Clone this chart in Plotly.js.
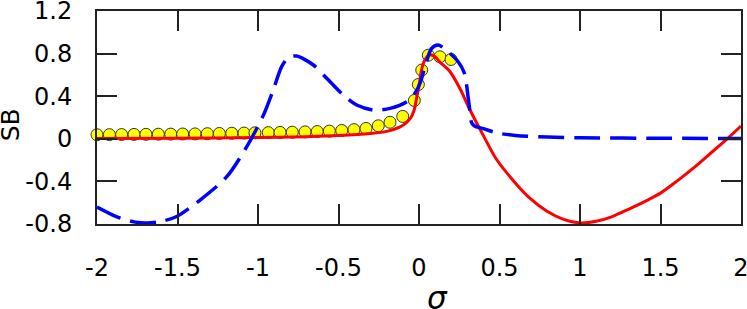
<!DOCTYPE html>
<html>
<head>
<meta charset="utf-8">
<script src="https://cdn.plot.ly/plotly-3.0.1.min.js"></script>
<style>html,body{margin:0;padding:0;background:#fff;}#chart{width:747px;height:309px;}</style>
</head>
<body>
<div id="chart"></div>
<script>
// Yellow circles (data points)
var circleX = [-2.0, -1.923, -1.847, -1.77, -1.696, -1.619, -1.542, -1.468, -1.391, -1.315, -1.24, -1.163, -1.087, -1.019, -0.936, -0.863, -0.787, -0.708, -0.632, -0.557, -0.48, -0.404, -0.329, -0.253, -0.18, -0.101, -0.029, -0.004, 0.017, 0.058, 0.13, 0.199];
var circleY = [0.038, 0.039, 0.04, 0.041, 0.042, 0.043, 0.044, 0.045, 0.046, 0.048, 0.05, 0.052, 0.054, 0.056, 0.058, 0.06, 0.062, 0.065, 0.068, 0.072, 0.078, 0.086, 0.097, 0.122, 0.155, 0.21, 0.36, 0.51, 0.645, 0.785, 0.77, 0.745];

// Red solid curve
var redX = [-2.0, -1.5, -1.0, -0.7, -0.5, -0.3, -0.2, -0.12, -0.08, -0.05, -0.03, -0.015, 0.0, 0.015, 0.03, 0.05, 0.07, 0.1, 0.13, 0.193, 0.255, 0.317, 0.4, 0.48, 0.59, 0.69, 0.795, 0.898, 1.0, 1.1, 1.2, 1.31, 1.42, 1.5, 1.6, 1.7, 1.8, 1.9, 2.0];
var redY = [0.003, 0.006, 0.012, 0.02, 0.03, 0.05, 0.07, 0.11, 0.15, 0.2, 0.27, 0.38, 0.5, 0.64, 0.72, 0.77, 0.79, 0.77, 0.72, 0.63, 0.47, 0.27, 0.03, -0.19, -0.4, -0.56, -0.68, -0.756, -0.79, -0.775, -0.73, -0.655, -0.575, -0.51, -0.40, -0.28, -0.15, -0.02, 0.12];

// Blue dashed curve
var blueX = [-2.0, -1.88, -1.77, -1.69, -1.6, -1.505, -1.36, -1.194, -1.07, -0.967, -0.905, -0.853, -0.81, -0.76, -0.656, -0.573, -0.47, -0.387, -0.284, -0.18, -0.076, -0.025, 0.006, 0.037, 0.079, 0.12, 0.18, 0.24, 0.281, 0.306, 0.317, 0.327, 0.345, 0.4, 0.484, 0.6, 0.8, 1.0, 1.5, 2.0];
var blueY = [-0.64, -0.73, -0.78, -0.79, -0.775, -0.73, -0.575, -0.356, -0.074, 0.22, 0.46, 0.677, 0.765, 0.777, 0.693, 0.568, 0.41, 0.317, 0.27, 0.286, 0.348, 0.427, 0.52, 0.677, 0.85, 0.88, 0.82, 0.73, 0.62, 0.38, 0.25, 0.15, 0.12, 0.095, 0.055, 0.032, 0.016, 0.01, 0.005, 0.003];

// Tick labels
var xTickVals = [-2, -1.5, -1, -0.5, 0, 0.5, 1, 1.5, 2];
var xTickText = ["-2", "-1.5", "-1", "-0.5", "0", "0.5", "1", "1.5", "2"];
var yTickVals = [-0.8, -0.4, 0, 0.4, 0.8, 1.2];
var yTickText = ["-0.8", "-0.4", "0", "0.4", "0.8", "1.2"];

var font = "DejaVu Sans, Liberation Sans, sans-serif";

var traces = [
  {x: circleX, y: circleY, mode: "markers", type: "scatter",
   marker: {size: 12, color: "#ffff00", line: {color: "#333333", width: 1}}, cliponaxis: false},
  {x: redX, y: redY, mode: "lines", type: "scatter",
   line: {color: "#ff0000", width: 3, shape: "spline", smoothing: 0.8}},
  {x: blueX, y: blueY, mode: "lines", type: "scatter",
   line: {color: "#0000ff", width: 3.5, dash: "26px,10px", shape: "spline", smoothing: 0.8}}
];

var axisCommon = {
  showgrid: false, zeroline: false, showline: true, linecolor: "#222", linewidth: 2,
  mirror: "ticks", ticks: "inside", ticklen: 20, tickwidth: 2, tickcolor: "#222",
  ticklabeloverflow: "allow",
  tickfont: {family: font, size: 24, color: "#000"}
};

var layout = {
  width: 747, height: 309,
  margin: {l: 97, r: 6, t: 11, b: 85, pad: 0},
  paper_bgcolor: "#fff", plot_bgcolor: "#fff",
  showlegend: false,
  xaxis: Object.assign({}, axisCommon, {range: [-2, 2], tickmode: "array", tickvals: xTickVals, ticktext: xTickText, ticklabelstandoff: 21}),
  yaxis: Object.assign({}, axisCommon, {range: [-0.8, 1.2], tickmode: "array", tickvals: yTickVals, ticktext: yTickText, ticklabelstandoff: 18}),
  annotations: [
    {text: "SB", xref: "paper", yref: "paper", x: -0.133, y: 0.465, xanchor: "center", yanchor: "middle",
     textangle: -90, showarrow: false, borderpad: 0, font: {family: font, size: 25, color: "#000"}},
    {text: "<i>σ</i>", xref: "paper", yref: "paper", x: 0.5295, y: -0.347, xanchor: "center", yanchor: "middle",
     showarrow: false, borderpad: 0, font: {family: font, size: 31, color: "#000"}}
  ]
};

Plotly.newPlot("chart", traces, layout, {staticPlot: true, displayModeBar: false});
</script>
</body>
</html>
